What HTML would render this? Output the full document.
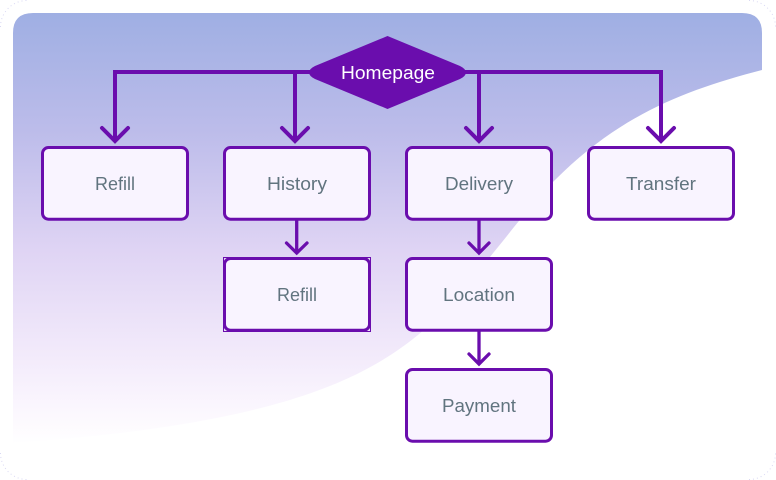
<!DOCTYPE html>
<html>
<head>
<meta charset="utf-8">
<style>
html,body{margin:0;padding:0;background:#fff;width:776px;height:480px;overflow:hidden}
svg{display:block}
text{font-family:"Liberation Sans",sans-serif;font-size:18px;text-anchor:middle;fill:#61747f}
.b{fill:#f9f4ff;stroke:#6a0dad;stroke-width:3}
.c{fill:none;stroke:#6a0dad;stroke-linecap:round;stroke-linejoin:miter}
</style>
</head>
<body>
<svg width="776" height="480" viewBox="0 0 776 480" xmlns="http://www.w3.org/2000/svg">
<defs>
<linearGradient id="g" gradientUnits="userSpaceOnUse" x1="0" y1="13" x2="0" y2="445">
<stop offset="0" stop-color="#9fafe3"/>
<stop offset=".27" stop-color="#bcbcea"/>
<stop offset=".55" stop-color="#dfd4f4"/>
<stop offset=".8" stop-color="#f3ebfb"/>
<stop offset=".92" stop-color="#fbf7fe"/>
<stop offset="1" stop-color="#ffffff"/>
</linearGradient>
</defs>
<rect width="776" height="480" fill="#fff"/>
<g fill="none" stroke="#d9d8f3" stroke-width="1" stroke-dasharray="1 3">
<path d="M.5 27A26.500 26.500 0 0 1 27 .5"/>
<path d="M749 .5A26.500 26.500 0 0 1 775.500 27"/>
<path d="M.5 453A26.500 26.500 0 0 0 27 479.500"/>
<path d="M749 479.500A26.500 26.500 0 0 0 775.500 453"/>
</g>
<path d="M13 33Q13 13 33 13L742 13Q762 13 762 33L762 70C685 90 620 115 555 180C520 214 470 290 418 335C360 382 270 425 13 443Z" fill="url(#g)"/>

<path class="c" stroke-width="4" stroke-linecap="butt" d="M310 72H115V140M295 72V140M465 72H661V140M479 72V140"/>
<g class="c" stroke-width="4">
<path d="M102 128L115 141L128 128"/>
<path d="M282 128L295 141L308 128"/>
<path d="M466 128L479 141L492 128"/>
<path d="M648 128L661 141L674 128"/>
</g>
<g class="c" stroke-width="3.300">
<path stroke-linecap="butt" d="M296.700 220V252M479 220V252M479 331V363"/>
<path d="M286.500 243L296.700 253L307 243"/>
<path d="M469 243L479 253L489 243"/>
<path d="M469 354L479 364L489 354"/>
</g>

<path d="M387.500 36L460 66Q466 69 466 72.500Q466 76 460 79L387.500 109L315 79Q309 76 309 72.500Q309 69 315 66Z" fill="#6a0dad"/>
<text x="388" y="79" textLength="94" lengthAdjust="spacingAndGlyphs" style="fill:#fff">Homepage</text>

<rect class="b" x="42.500" y="147.500" width="145" height="71.700" rx="6"/>
<rect class="b" x="224.500" y="147.500" width="145" height="71.700" rx="6"/>
<rect class="b" x="406.500" y="147.500" width="145" height="71.700" rx="6"/>
<rect class="b" x="588.500" y="147.500" width="145" height="71.700" rx="6"/>

<rect x="223.500" y="257.500" width="147" height="74" fill="none" stroke="#6a0dad" stroke-width="1"/>
<rect class="b" x="224.500" y="258.500" width="145" height="71.700" rx="6"/>
<rect class="b" x="406.500" y="258.500" width="145" height="71.700" rx="6"/>
<rect class="b" x="406.500" y="369.500" width="145" height="71.700" rx="6"/>

<text x="115" y="190" textLength="40" lengthAdjust="spacingAndGlyphs">Refill</text>
<text x="297" y="190" textLength="60" lengthAdjust="spacingAndGlyphs">History</text>
<text x="479" y="190" textLength="68" lengthAdjust="spacingAndGlyphs">Delivery</text>
<text x="661" y="190" textLength="70" lengthAdjust="spacingAndGlyphs">Transfer</text>
<text x="297" y="301" textLength="40" lengthAdjust="spacingAndGlyphs">Refill</text>
<text x="479" y="301" textLength="72" lengthAdjust="spacingAndGlyphs">Location</text>
<text x="479" y="412" textLength="74" lengthAdjust="spacingAndGlyphs">Payment</text>
</svg>
</body>
</html>
